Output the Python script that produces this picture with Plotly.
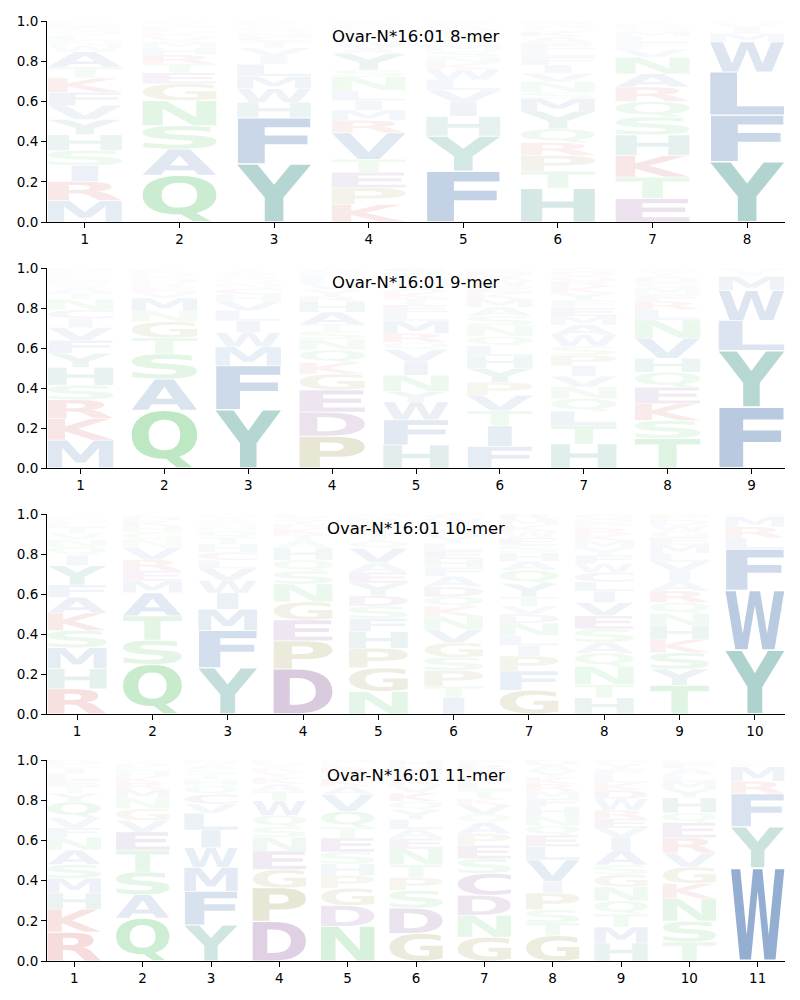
import struct, glob
import plotly.graph_objects as go

# ---------------- data ----------------
titles = ["Ovar-N*16:01 8-mer", "Ovar-N*16:01 9-mer", "Ovar-N*16:01 10-mer", "Ovar-N*16:01 11-mer"]
y_ticks = [0.0, 0.2, 0.4, 0.6, 0.8, 1.0]

# letters per position, stacked bottom -> top, with their heights
letters_8 = ["MRISHYVFKTAWNLQGEDP", "QASNGETRHMVKLDYF", "YFHWMLIVTCNQSKR", "KPETVRMILNSYAWFHGDC",
             "FYHIVLWKNSMQTEACR", "HTPRQYMSNVIFLEAKGWD", "ETKHSQRANVFLMGDI", "YFLWMIVH"]
heights_8 = [[.106, .095, .078, .075, .078, .075, .07, .065, .07, .055, .075, .03, .025, .025, .02, .015, .015, .012, .01],
             [.23, .128, .116, .123, .083, .053, .045, .043, .035, .03, .025, .02, .02, .015, .012, .01],
             [.282, .224, .075, .066, .061, .058, .04, .04, .03, .025, .02, .02, .015, .01, .01],
             [.085, .08, .075, .063, .128, .06, .05, .045, .05, .065, .035, .075, .03, .03, .03, .025, .02, .015, .01],
             [.247, .17, .096, .07, .058, .05, .05, .03, .03, .03, .03, .025, .025, .02, .02, .015, .01],
             [.16, .083, .075, .062, .066, .083, .062, .03, .05, .04, .04, .04, .035, .03, .03, .025, .02, .015, .015],
             [.113, .103, .104, .1, .086, .075, .07, .063, .08, .04, .03, .03, .025, .02, .015, .015],
             [.29, .224, .207, .145, .04, .03, .02, .01]]

letters_9 = ["MKRSHYFVICNTAWDPLQ", "QASTGNMVERHKDLY", "YFMWILVHCNQSAT", "PDEGKQNSTAHRYVLFMW",
             "HFWYNIVQRMLETKAGDCS", "FITVPYHLQNSAMKEWRDC", "HTLQNVIPSWAMEFYKRGDC", "TSKEQHVNLRFMGDIWY", "FYLWMIVH"]
heights_9 = [[.13, .1, .088, .067, .083, .067, .06, .06, .042, .04, .05, .03, .025, .02, .015, .015, .02, .02],
             [.287, .155, .125, .08, .08, .055, .062, .03, .025, .02, .02, .015, .015, .015, .01],
             [.287, .217, .093, .07, .058, .05, .045, .035, .03, .025, .02, .02, .02, .015],
             [.15, .113, .105, .075, .053, .06, .05, .04, .03, .058, .05, .025, .03, .03, .025, .02, .015, .013],
             [.108, .117, .083, .05, .075, .062, .058, .033, .042, .058, .04, .035, .03, .03, .03, .02, .02, .012, .03],
             [.097, .092, .067, .07, .058, .063, .055, .045, .042, .05, .042, .04, .035, .03, .03, .025, .02, .02, .015],
             [.113, .088, .067, .058, .055, .05, .05, .05, .042, .053, .047, .04, .04, .035, .035, .03, .025, .025, .02, .017],
             [.142, .087, .08, .08, .072, .067, .097, .088, .05, .04, .035, .03, .025, .025, .02, .015, .01],
             [.297, .275, .147, .145, .07, .02, .01, .01]]

letters_10 = ["RHMSKAFYIQNVTLGEW", "QSTAMERVNGHKDL", "YFMIWVLCHTQNSAG", "DPEGNSQHATKRYVL",
              "NGPHFSDYEAVQTKLRM", "ITPSGVNKQDAFHELYRMWC", "GFPILNDVTYQAHSEWKMR", "HTNQASEVILCWFYMKRPDG",
              "TYSKHNQRAIVLMEGWDP", "YWFLRMH"]
heights_10 = [[.12, .097, .1, .083, .083, .075, .06, .092, .05, .04, .035, .03, .03, .02, .02, .012, .01],
              [.24, .117, .117, .112, .057, .05, .053, .058, .04, .035, .03, .025, .02, .013],
              [.228, .183, .105, .08, .063, .058, .04, .04, .04, .035, .03, .025, .02, .02, .018],
              [.217, .135, .1, .087, .087, .062, .053, .058, .035, .03, .03, .02, .02, .015, .013],
              [.107, .112, .093, .078, .063, .058, .05, .06, .05, .047, .067, .035, .035, .03, .025, .02, .018],
              [.078, .055, .075, .062, .07, .063, .063, .047, .047, .047, .05, .042, .04, .04, .035, .035, .03, .03, .025, .02],
              [.112, .09, .07, .05, .047, .058, .042, .038, .045, .062, .062, .042, .04, .035, .035, .03, .03, .025, .027],
              [.078, .063, .088, .063, .053, .063, .063, .063, .055, .045, .045, .042, .04, .035, .035, .03, .03, .025, .02, .023],
              [.137, .078, .078, .062, .067, .058, .053, .055, .045, .05, .045, .04, .04, .035, .03, .03, .025, .027],
              [.312, .292, .202, .055, .053, .05, .013]]

letters_11 = ["RKHMSANFVQYTELIGD", "QASTEVGNMRKHLDY", "YFMWILVCQHTSAN", "DPGENSQWTAKYRVL",
              "NDGPHSETQVAKYRLM", "GDSPTNEALYQKVRFMH", "GNDCSEPAQVKTLHYRF", "GTSPIVLEQNHFMRKYAD",
              "HMTQNGSAIVERWDKLFYP", "TSNKGVREQHYMLAFD", "WYFRMLH"]
heights_11 = [[.138, .11, .078, .07, .066, .07, .06, .046, .05, .075, .04, .035, .03, .03, .025, .02, .02],
              [.204, .111, .108, .104, .086, .055, .056, .05, .04, .033, .03, .025, .02, .018, .015],
              [.174, .163, .116, .095, .086, .08, .046, .045, .043, .03, .025, .025, .022, .022],
              [.19, .16, .088, .088, .066, .05, .055, .07, .046, .035, .03, .025, .02, .02, .019],
              [.166, .1, .083, .061, .055, .058, .066, .053, .075, .08, .04, .035, .03, .025, .02, .016],
              [.13, .12, .083, .061, .06, .075, .05, .043, .046, .045, .04, .04, .035, .03, .03, .03, .03],
              [.113, .103, .095, .103, .07, .063, .055, .053, .038, .045, .03, .04, .035, .03, .03, .025, .022],
              [.121, .061, .063, .08, .055, .103, .063, .055, .045, .045, .045, .04, .035, .035, .03, .03, .03, .024],
              [.085, .075, .061, .061, .066, .058, .045, .07, .06, .043, .045, .04, .053, .04, .035, .035, .03, .025, .017],
              [.088, .096, .104, .07, .076, .065, .07, .07, .045, .07, .04, .035, .03, .03, .025, .014],
              [.453, .199, .161, .061, .07, .02, .013]]

panels = [(letters_8, heights_8), (letters_9, heights_9), (letters_10, heights_10), (letters_11, heights_11)]

# ---------------- style ----------------
GROUP_COLORS = {
    "AVILMFW": (22, 80, 155),     # hydrophobic - blue
    "YH": (0, 114, 100),          # teal
    "STNQ": (30, 175, 50),        # green
    "DEC": (90, 20, 110),         # purple
    "KR": (190, 10, 10),          # red
    "GP": (115, 105, 0),          # olive
}
LETTER_COLOR = {c: rgb for grp, rgb in GROUP_COLORS.items() for c in grp}

GLYPH_WIDTH = 0.78
VPAD = 0.03

# ---------------- font glyph outlines (read from installed TTF) ----------------
class TTF:
    def __init__(self, path):
        d = open(path, 'rb').read()
        self.d = d
        num = struct.unpack('>H', d[4:6])[0]
        self.tables = {}
        for i in range(num):
            tag, cs, off, ln = struct.unpack('>4sLLL', d[12 + 16 * i:28 + 16 * i])
            self.tables[tag.decode('latin1')] = (off, ln)
        ho = self.tables['head'][0]
        self.locfmt = struct.unpack('>h', d[ho + 50:ho + 52])[0]
        mo = self.tables['maxp'][0]
        ng = struct.unpack('>H', d[mo + 4:mo + 6])[0]
        lo = self.tables['loca'][0]
        if self.locfmt == 0:
            self.loca = [2 * v for v in struct.unpack('>%dH' % (ng + 1), d[lo:lo + 2 * (ng + 1)])]
        else:
            self.loca = list(struct.unpack('>%dL' % (ng + 1), d[lo:lo + 4 * (ng + 1)]))
        self._build_cmap()

    def _build_cmap(self):
        d = self.d
        co = self.tables['cmap'][0]
        n = struct.unpack('>H', d[co + 2:co + 4])[0]
        sub = None
        for i in range(n):
            pid, eid, off = struct.unpack('>HHL', d[co + 4 + 8 * i:co + 12 + 8 * i])
            fmt = struct.unpack('>H', d[co + off:co + off + 2])[0]
            if fmt == 4 and ((pid == 3 and eid == 1) or pid == 0):
                sub = co + off
                break
        segx2 = struct.unpack('>H', d[sub + 6:sub + 8])[0]
        seg = segx2 // 2
        p = sub + 14
        self.ends = struct.unpack('>%dH' % seg, d[p:p + segx2]); p += segx2 + 2
        self.starts = struct.unpack('>%dH' % seg, d[p:p + segx2]); p += segx2
        self.deltas = struct.unpack('>%dh' % seg, d[p:p + segx2]); p += segx2
        self.rpos = p
        self.rofs = struct.unpack('>%dH' % seg, d[p:p + segx2])
        self.seg = seg

    def gid(self, c):
        for i in range(self.seg):
            if self.starts[i] <= c <= self.ends[i]:
                if self.rofs[i] == 0:
                    return (c + self.deltas[i]) & 0xFFFF
                a = self.rpos + 2 * i + self.rofs[i] + 2 * (c - self.starts[i])
                g = struct.unpack('>H', self.d[a:a + 2])[0]
                return (g + self.deltas[i]) & 0xFFFF if g else 0
        return 0

    def glyph(self, ch):
        d = self.d
        g = self.gid(ord(ch))
        go_ = self.tables['glyf'][0] + self.loca[g]
        nc, xmin, ymin, xmax, ymax = struct.unpack('>hhhhh', d[go_:go_ + 10])
        if nc <= 0:
            raise ValueError("compound glyph")
        p = go_ + 10
        ends = struct.unpack('>%dH' % nc, d[p:p + 2 * nc]); p += 2 * nc
        il = struct.unpack('>H', d[p:p + 2])[0]; p += 2 + il
        npts = ends[-1] + 1
        flags = []
        while len(flags) < npts:
            f = d[p]; p += 1
            flags.append(f)
            if f & 8:
                r = d[p]; p += 1
                flags.extend([f] * r)
        flags = flags[:npts]
        xs, v = [], 0
        for f in flags:
            if f & 2:
                dv = d[p]; p += 1
                v += dv if f & 16 else -dv
            elif not (f & 16):
                v += struct.unpack('>h', d[p:p + 2])[0]; p += 2
            xs.append(v)
        ys, v = [], 0
        for f in flags:
            if f & 4:
                dv = d[p]; p += 1
                v += dv if f & 32 else -dv
            elif not (f & 32):
                v += struct.unpack('>h', d[p:p + 2])[0]; p += 2
            ys.append(v)
        contours, s = [], 0
        for e in ends:
            contours.append(contour_cmds([(xs[i], ys[i], bool(flags[i] & 1)) for i in range(s, e + 1)]))
            s = e + 1
        return contours, (xmin, ymin, xmax, ymax)


def contour_cmds(pts):
    n = len(pts)
    exp = []
    for i in range(n):
        x, y, on = pts[i]
        nx, ny, non = pts[(i + 1) % n]
        exp.append((x, y, on))
        if not on and not non:
            exp.append(((x + nx) / 2.0, (y + ny) / 2.0, True))
    k = next(i for i, q in enumerate(exp) if q[2])
    exp = exp[k:] + exp[:k]
    m = len(exp)
    cmds = [('M', exp[0][:2])]
    i = 1
    while i <= m:
        q = exp[i % m]
        if q[2]:
            cmds.append(('L', q[:2])); i += 1
        else:
            r = exp[(i + 1) % m]
            cmds.append(('Q', q[:2], r[:2])); i += 2
    cmds.append(('Z',))
    return cmds


def find_font():
    pats = ['/usr/share/fonts/**/DejaVuSans-Bold.ttf', '/usr/local/share/fonts/**/DejaVuSans-Bold.ttf',
            '/usr/share/fonts/**/LiberationSans-Bold.ttf', '/usr/**/DejaVuSans-Bold.ttf']
    for pat in pats:
        r = glob.glob(pat, recursive=True)
        if r:
            return r[0]
    return None


GLYPHS = {}
try:
    font = TTF(find_font())
    for ch in "ACDEFGHIKLMNPQRSTVWY":
        GLYPHS[ch] = font.glyph(ch)
except Exception:
    GLYPHS = {}

if GLYPHS:
    E_W = GLYPHS['E'][1][2] - GLYPHS['E'][1][0]


def glyph_path(ch, xc, y0, h):
    if ch not in GLYPHS:
        x0, x1 = xc - GLYPH_WIDTH / 2, xc + GLYPH_WIDTH / 2
        b, t = y0 + VPAD * h / 2, y0 + h - VPAD * h / 2
        return "M%.4f,%.5f L%.4f,%.5f L%.4f,%.5f L%.4f,%.5f Z" % (x0, b, x1, b, x1, t, x0, t)
    contours, (xmin, ymin, xmax, ymax) = GLYPHS[ch]
    gw, gh = xmax - xmin, ymax - ymin
    sx = min(GLYPH_WIDTH / gw, GLYPH_WIDTH / E_W)
    left = xc - gw * sx / 2
    bottom = y0 + VPAD * h / 2
    sy = h * (1 - VPAD) / gh

    def T(pt):
        return (left + (pt[0] - xmin) * sx, bottom + (pt[1] - ymin) * sy)

    parts = []
    for cmds in contours:
        for c in cmds:
            if c[0] == 'M':
                parts.append("M%.4f,%.5f" % T(c[1]))
            elif c[0] == 'L':
                parts.append("L%.4f,%.5f" % T(c[1]))
            elif c[0] == 'Q':
                a, b = T(c[1]), T(c[2])
                parts.append("Q%.4f,%.5f %.4f,%.5f" % (a[0], a[1], b[0], b[1]))
            else:
                parts.append("Z")
    return " ".join(parts)


# ---------------- figure ----------------
fig = go.Figure()
# panel pixel boxes (top, bottom) in an 800x1000 page
panel_px = [(21, 222), (268, 468), (514, 714), (760, 961)]
x_dom = [47 / 800, 785 / 800]

shapes = []
annotations = []
for k, ((letters, heights), title) in enumerate(zip(panels, titles)):
    n = len(letters)
    sfx = "" if k == 0 else str(k + 1)
    xref, yref = "x" + sfx, "y" + sfx
    positions = list(range(1, n + 1))
    fig.add_trace(go.Scatter(x=positions, y=[0] * n, mode="markers", marker=dict(opacity=0),
                             hoverinfo="skip", showlegend=False, xaxis=xref, yaxis=yref))
    for pos, letts, hs in zip(positions, letters, heights):
        total = sum(hs)
        y = 0.0
        for ch, hv in zip(letts, hs):
            h = hv / total
            r, g, b = LETTER_COLOR[ch]
            a = min(1.0, h)
            shapes.append(dict(type="path", xref=xref, yref=yref, path=glyph_path(ch, pos, y, h),
                               fillcolor="rgba(%d,%d,%d,%.3f)" % (r, g, b, a),
                               line=dict(width=0), layer="below"))
            y += h
    top, bot = panel_px[k]
    dom = [1 - bot / 1000, 1 - top / 1000]
    fig.layout["xaxis" + sfx] = dict(domain=x_dom, anchor=yref, range=[0.6, n + 0.4],
                                     tickvals=positions, ticktext=[str(p) for p in positions],
                                     showline=True, linecolor="black", linewidth=1, ticks="outside",
                                     ticklen=5, tickwidth=1, tickcolor="black", showgrid=False,
                                     zeroline=False, mirror=False,
                                     tickfont=dict(family="DejaVu Sans", size=13.5, color="black"))
    fig.layout["yaxis" + sfx] = dict(domain=dom, anchor=xref, range=[0, 1], tickvals=y_ticks,
                                     ticktext=["%.1f" % t for t in y_ticks],
                                     showline=True, linecolor="black", linewidth=1, ticks="outside",
                                     ticklen=5, tickwidth=1, tickcolor="black", showgrid=False,
                                     zeroline=False, mirror=False,
                                     tickfont=dict(family="DejaVu Sans", size=13.5, color="black"))
    annotations.append(dict(text=title, xref=xref + " domain", yref=yref + " domain", x=0.5,
                            y=1 - 15 / 201, xanchor="center", yanchor="middle", showarrow=False,
                            font=dict(family="DejaVu Sans", size=16.5, color="black")))

fig.update_layout(width=800, height=1000, margin=dict(l=0, r=0, t=0, b=0, autoexpand=False),
                  paper_bgcolor="white", plot_bgcolor="white", shapes=shapes,
                  annotations=annotations, showlegend=False)
fig.write_html("out.html", config={"displayModeBar": False},
               post_script="document.body.style.margin='0';document.body.style.overflow='hidden';")
